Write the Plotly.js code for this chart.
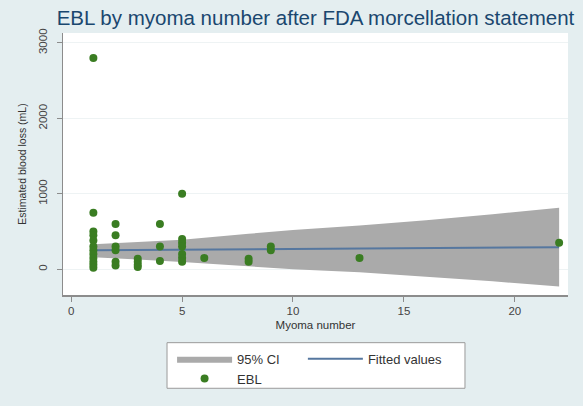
<!DOCTYPE html>
<html>
<head>
<meta charset="utf-8">
<script src="https://cdn.plot.ly/plotly-3.0.1.min.js"></script>
<style>html,body{margin:0;padding:0;background:#e4eef0;}#chart{width:583px;height:406px;}</style>
</head>
<body>
<div id="chart"></div>
<script>
// Observed points (myoma number, EBL mL)
var myomaNumber = [1,1,1,1,1,1,1,1,1,1,1,1,
                   2,2,2,2,2,2,
                   3,3,3,3,
                   4,4,4,
                   5,5,5,5,5,5,5,
                   6,
                   8,8,
                   9,9,
                   13,
                   22];
var ebl = [2800,750,500,450,380,300,250,200,150,100,60,20,
           600,450,300,250,100,50,
           140,100,60,30,
           600,300,110,
           1000,400,350,300,200,150,100,
           150,
           140,100,
           300,250,
           150,
           350];

// Fitted line
var fitX = [1, 22];
var fitY = [250, 292];

// 95% CI band
var ciX     = [1,   3,   5,   8,   10,  13,  16,  19,   22];
var ciUpper = [330, 355, 390, 470, 520, 580, 650, 730,  815];
var ciLower = [160, 130, 95,  40,  0,  -40, -100, -160, -230];

// Axis ticks
var xTicks = [0, 5, 10, 15, 20];
var yTicks = [0, 1000, 2000, 3000];

var bandX = ciX.concat(ciX.slice().reverse());
var bandY = ciUpper.concat(ciLower.slice().reverse());

var traces = [
  {
    x: bandX, y: bandY, type: 'scatter', mode: 'lines', fill: 'toself',
    fillcolor: '#aaaaaa', line: {width: 0, color: '#aaaaaa'},
    name: '95% CI', legend: 'legend', hoverinfo: 'skip'
  },
  {
    x: fitX, y: fitY, type: 'scatter', mode: 'lines',
    line: {color: '#56779f', width: 2},
    name: 'Fitted values', legend: 'legend2'
  },
  {
    x: myomaNumber, y: ebl, type: 'scatter', mode: 'markers',
    marker: {color: '#3a7d22', size: 8},
    name: 'EBL', legend: 'legend'
  }
];

var legendFont = {size: 13, color: '#333333'};

var layout = {
  width: 583, height: 406,
  paper_bgcolor: '#e4eef0',
  plot_bgcolor: '#ffffff',
  margin: {l: 63, r: 15, t: 33, b: 109},
  font: {family: 'Liberation Sans, Arial, sans-serif', color: '#333333'},
  title: {
    text: 'EBL by myoma number after FDA morcellation statement',
    font: {size: 20.5, color: '#1a476f'},
    xref: 'paper', x: 0.5, xanchor: 'center',
    yref: 'container', y: 0.955, yanchor: 'middle'
  },
  xaxis: {
    range: [-0.37, 22.4],
    tickvals: xTicks, ticktext: xTicks.map(String),
    ticks: 'outside', ticklen: 5, tickcolor: '#8c8c8c',
    showline: true, linecolor: '#8c8c8c', linewidth: 1.5,
    showgrid: false, zeroline: false,
    tickfont: {size: 11.5, color: '#444444'},
    title: {text: 'Myoma number', font: {size: 11.5, color: '#333333'}, standoff: 4}
  },
  yaxis: {
    range: [-342, 3132],
    tickvals: yTicks, ticktext: yTicks.map(String),
    ticks: 'outside', ticklen: 5, tickcolor: '#8c8c8c', tickangle: -90,
    ticklabelstandoff: 5,
    showline: true, linecolor: '#8c8c8c', linewidth: 1.5,
    showgrid: true, gridcolor: '#eef3f4', gridwidth: 1,
    zeroline: false,
    tickfont: {size: 11.5, color: '#444444'},
    title: {text: 'Estimated blood loss (mL)', font: {size: 10.5, color: '#333333'}, standoff: 8}
  },
  showlegend: true,
  legend: {
    orientation: 'v', traceorder: 'normal',
    x: 0.216, xanchor: 'left', xref: 'paper',
    y: -0.186, yanchor: 'top', yref: 'paper',
    bgcolor: 'rgba(0,0,0,0)', borderwidth: 0,
    itemwidth: 55, font: legendFont
  },
  legend2: {
    orientation: 'v',
    x: 0.475, xanchor: 'left', xref: 'paper',
    y: -0.186, yanchor: 'top', yref: 'paper',
    bgcolor: 'rgba(0,0,0,0)', borderwidth: 0,
    itemwidth: 55, font: legendFont
  },
  shapes: [{
    type: 'rect', xref: 'paper', yref: 'paper',
    x0: 0.206, x1: 0.796, y0: -0.356, y1: -0.182,
    fillcolor: '#ffffff', line: {color: '#9a9a9a', width: 1}, layer: 'above'
  }]
};

Plotly.newPlot('chart', traces, layout, {displayModeBar: false, staticPlot: true});
</script>
</body>
</html>
